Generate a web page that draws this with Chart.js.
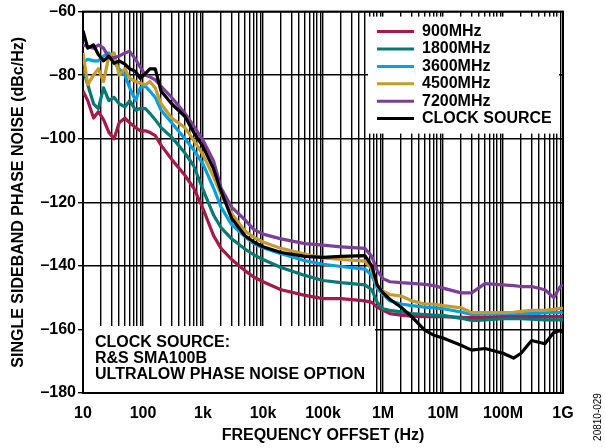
<!DOCTYPE html>
<html lang="en">
<head>
    <meta charset="UTF-8">
    <title>Phase Noise</title>
    <script src="https://cdn.jsdelivr.net/npm/chart.js"></script>
    <style>
        body { margin: 0; background: #fff; }
    </style>
</head>
<body>
    <canvas id="pnChart" width="605" height="448"></canvas>

    <script>
        // offset frequencies (Hz)
        const freqHz = [10, 12, 15, 18, 22, 27, 33, 40, 50, 60,
            75, 90, 110, 130, 160, 200, 300, 500, 700, 1e3,
            1.5e3, 2e3, 3e3, 5e3, 7e3, 1e4, 2e4, 5e4, 1e5, 2e5,
            5e5, 6.5e5, 8e5, 1e6, 1.3e6, 2e6, 3e6, 5e6, 7e6, 1e7,
            2e7, 3e7, 5e7, 1e8, 1.5e8, 2e8, 3e8, 5e8, 7e8, 9e8, 1e9];

        // phase noise (dBc/Hz), one array per output frequency
        const pn900 = [-85, -88, -93.5, -91.5, -94, -98, -100, -95, -93.5, -95,
            -96.5, -97.5, -97.5, -98, -99, -102, -106.5, -111.5, -115.5, -122,
            -130.5, -134.5, -138, -141.5, -143.5, -145, -147.5, -149.3, -150.3, -150.3,
            -151, -151.5, -153, -154, -155, -155.5, -155.8, -156, -156, -156,
            -156.2, -156.3, -156.2, -156, -156, -156, -156, -156, -156, -156, -156];
        const pn1800 = [-78, -83, -89, -90.5, -84, -88, -87, -89, -90, -88,
            -91, -90.5, -90.5, -92, -94, -96.5, -99.5, -104.5, -108.5, -116,
            -124, -128, -131.5, -134.7, -136.5, -138, -140.5, -143, -144.6, -145.3,
            -146, -147.5, -151.5, -153.5, -154, -154.5, -155, -155.3, -155.5, -155.6,
            -156.5, -157.2, -157, -156.6, -156.5, -156.6, -156.8, -157, -157, -157, -157];
        const pn3600 = [-76, -75, -75.5, -75.5, -74, -73, -76, -78, -80, -84,
            -88, -84, -83.5, -85, -87, -91, -95, -100, -103.5, -108,
            -115.5, -121.5, -127, -130.8, -133, -134.3, -136.2, -138.4, -139.5, -140.2,
            -141, -143, -147, -149, -151, -152, -152.5, -153, -153.2, -153.5,
            -154.5, -155.3, -155.2, -155, -155, -155, -155, -154.8, -154.7, -154.7, -154.5];
        const pn4500 = [-73, -83, -80, -78, -82, -74, -73, -80, -78, -81,
            -82, -82.5, -83, -82, -84, -89, -93.5, -96.5, -100.5, -105,
            -112, -117.5, -123.5, -129, -131, -132.5, -134.5, -136.3, -137.5, -138,
            -138.5, -141, -146.5, -148, -149, -149.5, -151, -152, -152, -152.5,
            -153.2, -154.7, -154.7, -154.7, -154.6, -154.3, -154, -154, -153.7, -153.4, -153.3];
        const pn7200 = [-70.5, -71, -71.5, -70.5, -71.5, -74.5, -74.5, -74, -73, -72.5,
            -75, -77.5, -80, -80.5, -81.5, -83.5, -87, -92, -96, -100.5,
            -107, -115.5, -121.5, -125.5, -128.5, -130, -131.5, -133, -133.5, -134,
            -134.5, -137, -141.5, -144, -145, -145.3, -145.5, -145.8, -146.2, -147,
            -148.5, -148.5, -145.6, -146, -146.2, -146.5, -146.5, -147.5, -150, -146.5, -146];
        const pnClock = [-66, -71.5, -70.5, -73.5, -75.5, -74, -76.3, -75.5, -76.5, -78,
            -78.8, -81, -79.5, -78, -78, -85, -89, -93, -98, -102.5,
            -109.5, -116.5, -125, -130.5, -132.5, -134, -135.8, -137, -137.3, -137,
            -136.8, -140, -146, -148.5, -150.5, -153, -156, -160.3, -161.8, -162.7,
            -165, -166.5, -166, -167.5, -169, -167.5, -163.5, -164.5, -161, -160.3, -161];

        const seriesNames = ['900MHz', '1800MHz', '3600MHz', '4500MHz', '7200MHz', 'CLOCK SOURCE'];
        const seriesValues = [pn900, pn1800, pn3600, pn4500, pn7200, pnClock];
        const seriesColors = ['#A6194B', '#007A73', '#00A1DE', '#C59A2F', '#7B3F98', '#000000'];
        const drawOrder = [5, 4, 3, 2, 1, 0];

        const decades = [10, 1e2, 1e3, 1e4, 1e5, 1e6, 1e7, 1e8, 1e9];
        const decadeLabels = ['10', '100', '1k', '10k', '100k', '1M', '10M', '100M', '1G'];
        const noteLines = ['CLOCK SOURCE:', 'R&S SMA100B', 'ULTRALOW PHASE NOISE OPTION'];

        // grid ticks at 1..9 x each decade
        const xTicks = [];
        decades.forEach((d, i) => {
            if (i === decades.length - 1) { xTicks.push(d); return; }
            for (let m = 1; m <= 9; m++) xTicks.push(m * d);
        });

        const boldFont = '"Liberation Sans", Arial, sans-serif';
        Chart.defaults.font.family = boldFont;
        Chart.defaults.font.weight = 'bold';
        Chart.defaults.color = '#000';

        const overlay = {
            id: 'overlay',
            beforeDatasetsDraw(chart) {
                const { ctx, chartArea: a } = chart;
                ctx.save();
                ctx.fillStyle = '#fff';
                // legend box
                ctx.fillRect(a.right - 195, a.top + 5, 191, 117);
                // note box
                ctx.fillRect(a.left, a.bottom - 67, 292, 67);

                ctx.font = 'bold 16px ' + boldFont;
                ctx.textBaseline = 'middle';
                ctx.fillStyle = '#000';
                seriesNames.forEach((name, i) => {
                    const y = a.top + 20 + i * 17.4;
                    ctx.strokeStyle = seriesColors[i];
                    ctx.lineWidth = 3;
                    ctx.beginPath();
                    ctx.moveTo(a.right - 186, y);
                    ctx.lineTo(a.right - 149, y);
                    ctx.stroke();
                    ctx.fillText(name, a.right - 141, y);
                });
                noteLines.forEach((t, i) => {
                    ctx.fillText(t, a.left + 12, a.bottom - 50 + i * 15.7);
                });

                // frame
                ctx.strokeStyle = '#000';
                ctx.lineWidth = 2;
                ctx.strokeRect(a.left, a.top, a.right - a.left, a.bottom - a.top);
                ctx.restore();
            },
            afterDraw(chart) {
                const ctx = chart.ctx;
                ctx.save();
                ctx.translate(598, 417);
                ctx.rotate(-Math.PI / 2);
                ctx.font = '10px ' + boldFont;
                ctx.textAlign = 'center';
                ctx.textBaseline = 'middle';
                ctx.fillStyle = '#000';
                ctx.fillText('20810-029', 0, 0);
                ctx.restore();
            }
        };

        new Chart(document.getElementById('pnChart'), {
            type: 'line',
            data: {
                datasets: seriesNames.map((name, i) => ({
                    label: name,
                    data: freqHz.map((f, j) => ({ x: f, y: seriesValues[i][j] })),
                    borderColor: seriesColors[i],
                    borderWidth: 3.2,
                    borderJoinStyle: 'round',
                    pointRadius: 0,
                    tension: 0,
                    fill: false,
                    order: drawOrder[i]
                }))
            },
            options: {
                responsive: false,
                animation: false,
                devicePixelRatio: 1,
                layout: { padding: { left: 0, top: 10, right: 42, bottom: 0 } },
                plugins: {
                    legend: { display: false },
                    tooltip: { enabled: false }
                },
                scales: {
                    x: {
                        type: 'logarithmic',
                        min: 10,
                        max: 1e9,
                        afterBuildTicks(s) { s.ticks = xTicks.map(v => ({ value: v })); },
                        afterFit(s) { s.height = 55; },
                        grid: { color: '#000', lineWidth: 1.4, drawTicks: false },
                        border: { display: false },
                        ticks: {
                            autoSkip: false,
                            maxRotation: 0,
                            padding: 11,
                            font: { size: 16, weight: 'bold' },
                            callback: v => {
                                const k = decades.indexOf(v);
                                return k >= 0 ? decadeLabels[k] : '';
                            }
                        },
                        title: {
                            display: true,
                            text: 'FREQUENCY OFFSET (Hz)',
                            font: { size: 16, weight: 'bold' },
                            padding: { top: 0, bottom: 3 }
                        }
                    },
                    y: {
                        min: -180,
                        max: -60,
                        afterFit(s) { s.width = 83; },
                        grid: { color: '#000', lineWidth: 1.4, tickLength: 5 },
                        border: { display: false },
                        ticks: {
                            stepSize: 20,
                            padding: 2,
                            font: { size: 16, weight: 'bold' },
                            callback: v => (v < 0 ? '\u2013' : '') + Math.abs(v)
                        },
                        title: {
                            display: true,
                            text: 'SINGLE SIDEBAND PHASE NOISE (dBc/Hz)',
                            font: { size: 16, weight: 'bold' },
                            padding: { top: 9, bottom: 0 }
                        }
                    }
                }
            },
            plugins: [overlay]
        });
    </script>
</body>
</html>
